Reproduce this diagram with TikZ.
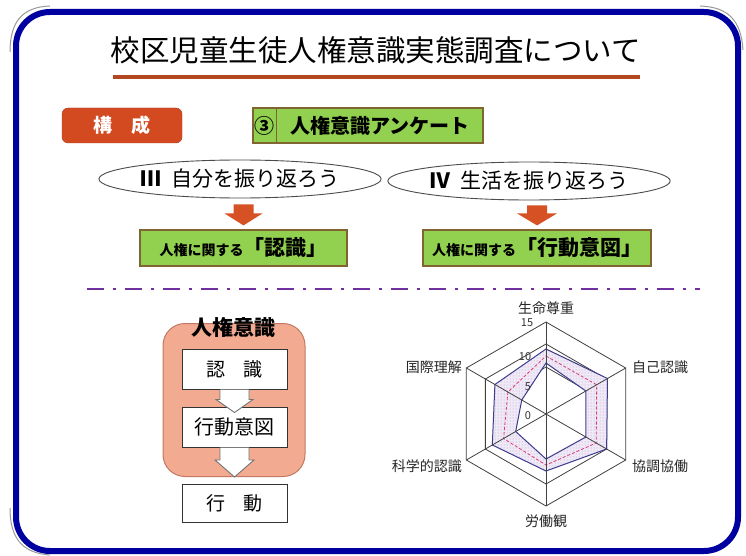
\documentclass[tikz,border=0pt]{standalone}
\usepackage{fontspec}
\newfontfamily\jp{Noto Sans CJK JP}
\usetikzlibrary{shapes.geometric,patterns,calc}
\definecolor{navy}{RGB}{0,0,160}
\definecolor{ulc}{RGB}{178,72,32}
\definecolor{kosei}{RGB}{211,74,33}
\definecolor{gfill}{RGB}{146,208,80}
\definecolor{gline}{RGB}{128,100,50}
\definecolor{arr}{RGB}{214,82,36}
\definecolor{purp}{RGB}{112,48,160}
\definecolor{salm}{RGB}{242,170,145}
\definecolor{salml}{RGB}{196,120,98}
\definecolor{dblue}{RGB}{60,60,140}
\definecolor{dred}{RGB}{220,60,110}
\definecolor{band}{RGB}{238,234,248}
\definecolor{dotc}{RGB}{205,140,190}
\newcommand\myfs[1]{\fontsize{#1}{#1}\selectfont}
% down block arrow: fill style, from, to, shaft half width, head half width, head length, outline style
\newcommand\downblock[7]{%
  \path let \p1=(#2), \p2=(#3) in
    [#1] (\x2-#4pt,\y1) -- (\x2+#4pt,\y1) -- (\x2+#4pt,\y2+#6pt) -- (\x2+#5pt,\y2+#6pt)
      -- (\x2,\y2) -- (\x2-#5pt,\y2+#6pt) -- (\x2-#4pt,\y2+#6pt) -- cycle;
  \path let \p1=(#2), \p2=(#3) in
    [#7] (\x2+#4pt,\y1) -- (\x2+#4pt,\y2+#6pt) -- (\x2+#5pt,\y2+#6pt)
      -- (\x2,\y2) -- (\x2-#5pt,\y2+#6pt) -- (\x2-#4pt,\y2+#6pt) -- (\x2-#4pt,\y1);
}
\begin{document}
\begin{tikzpicture}[x=1pt,y=-1pt,font=\jp,
  gbox/.style={draw=gline, line width=1.2, fill=gfill, inner sep=0},
  ell/.style={ellipse, draw=black!70, line width=0.9, fill=white, inner sep=0},
  wbox/.style={draw=black!80, line width=1, fill=white, minimum width=105, inner sep=0},
  axl/.style={font=\jp\myfs{14}, text=black!85, inner sep=1},
  scl/.style={font=\jp\myfs{11}, text=black!80, inner sep=0},
  gridl/.style={draw=black!75, line width=0.8},
]
\useasboundingbox (0,0) rectangle (746,556);
\fill[white] (0,0) rectangle (746,556);
% frame
\draw[black!40, line width=1] (10,52) .. controls (10,22) and (22,7) .. (50,6);
\draw[black!40, line width=1] (700,6) .. controls (728,7) and (741,20) .. (743,50);
\draw[black!40, line width=1] (10,508) .. controls (10,538) and (22,553) .. (50,555);
\draw[navy, line width=6, rounded corners=34] (16,12) rectangle (738,551);

% title
\node[font=\jp\myfs{29.5}, inner sep=0] (title) at (376,50) {校区児童生徒人権意識実態調査について};
\draw[ulc, line width=4] (113,77) -- (640,77);

% header row
\node[fill=kosei, draw=kosei!80!black, rounded corners=6, minimum width=120, minimum height=35,
      text=white, font=\jp\myfs{19}\bfseries, inner sep=0] (kosei) at (122,125.5) {構\hspace{1em}成};
\node[gbox, minimum width=230, minimum height=35] (enq) at (368,125.5) {};
\draw[gline, line width=1] (276,108) -- (276,143);
\node[font=\jp\myfs{20}\bfseries, inner sep=0] (maru) at (264.5,125.5) {③};
\node[font=\jp\myfs{20}\bfseries, inner sep=0] (enqt) at (380,125.5) {人権意識アンケート};

% ellipses
\node[ell, minimum width=260, minimum height=38, font=\jp\myfs{21}] (e1) at (240,179) {\textbf{Ⅲ}\hspace{0.5em}自分を振り返ろう};
\node[ell, minimum width=262, minimum height=38, font=\jp\myfs{21}] (e2) at (529,181) {\textbf{Ⅳ}\hspace{0.5em}生活を振り返ろう};

% green result boxes
\node[gbox, minimum width=207, minimum height=36] (b1) at (243.5,248)
  {\bfseries\myfs{14}人権に関する\myfs{21}「認識」};
\node[gbox, minimum width=228, minimum height=36] (b2) at (537,248)
  {\bfseries\myfs{14}人権に関する\myfs{21}「行動意図」};

% orange arrows
\coordinate (a1s) at ($(e1.south)+(0,6)$);
\coordinate (a1e) at ($(b1.north)+(0,-4)$);
\coordinate (a2s) at ($(e2.south)+(0,5)$);
\coordinate (a2e) at ($(b2.north)+(0,-4)$);
\downblock{fill=arr}{a1s}{a1e}{10}{19}{12}{draw=none}
\downblock{fill=arr}{a2s}{a2e}{10}{20}{12}{draw=none}

% dash-dot separator
\draw[purp, line width=2.5, dash pattern=on 17pt off 9pt on 3pt off 9pt] (87,289) -- (700,289);

% left model
\node[fill=salm, draw=salml, line width=1, rounded corners=22, minimum width=142, minimum height=153] (jk) at (234,400) {};
\node[font=\jp\myfs{21}\bfseries, inner sep=0] (jkt) at (233,327) {人権意識};
\node[wbox, minimum height=40, font=\jp\myfs{19}] (ni) at (234.5,369) {認\hspace{0.9em}識};
\node[wbox, minimum height=40, font=\jp\myfs{20}] (kd) at (234.5,427) {行動意図};
\node[wbox, minimum height=38, font=\jp\myfs{19}] (ko) at (234.5,503.5) {行\hspace{0.9em}動};
\coordinate (w1e) at ($(kd.north)+(0,6)$);
\coordinate (w2e) at ($(ko.north)+(0,-7)$);
\downblock{fill=white}{ni.south}{w1e}{14.5}{18.5}{13}{draw=black!55, line width=0.9}
\downblock{fill=white}{kd.south}{w2e}{14.5}{19.5}{17}{draw=black!55, line width=0.9}

% radar chart
\begin{scope}[shift={(546,414)}]
  \coordinate (C) at (0,0);
  \foreach \r in {92,70,47}
    \draw[gridl] (-90:\r) -- (-30:\r) -- (30:\r) -- (90:\r) -- (150:\r) -- (210:\r) -- cycle;
  % data band
  \fill[band, even odd rule]
    (-90:65) -- (-30:71) -- (30:70) -- (90:57) -- (150:62) -- (210:59) -- cycle
    (-90:51) -- (-30:46) -- (30:46) -- (90:45) -- (150:35) -- (210:28) -- cycle;
  \fill[pattern=dots, pattern color=dotc, even odd rule]
    (-90:65) -- (-30:71) -- (30:70) -- (90:57) -- (150:62) -- (210:59) -- cycle
    (-90:51) -- (-30:46) -- (30:46) -- (90:45) -- (150:35) -- (210:28) -- cycle;
  \draw[dblue, line width=1] (-90:65) -- (-30:71) -- (30:70) -- (90:57) -- (150:62) -- (210:59) -- cycle;
  \draw[dblue, line width=1] (-90:51) -- (-30:46) -- (30:46) -- (90:45) -- (150:35) -- (210:28) -- cycle;
  \draw[dred, line width=0.8, dash pattern=on 3pt off 2pt] (-90:58) -- (-30:58.5) -- (30:58) -- (90:51) -- (150:49) -- (210:44) -- cycle;
  % spokes
  \draw[gridl] (-90:92) -- (90:92);
  \draw[gridl] (-30:92) -- (150:92);
  \draw[gridl] (30:92) -- (210:92);
\end{scope}
\node[scl] (s15) at (527,323) {15};
\node[scl] (s10) at (525,357) {10};
\node[scl] (s5) at (528,387) {5};
\node[scl] (s0) at (528,416) {0};
\node[axl] (l1) at (546,308) {生命尊重};
\node[axl, anchor=west] (l2) at (631,367) {自己認識};
\node[axl, anchor=west] (l3) at (631,466) {協調協働};
\node[axl] (l4) at (546,521) {労働観};
\node[axl, anchor=east] (l5) at (463,466) {科学的認識};
\node[axl, anchor=east] (l6) at (463,367) {国際理解};
\end{tikzpicture}
\end{document}
